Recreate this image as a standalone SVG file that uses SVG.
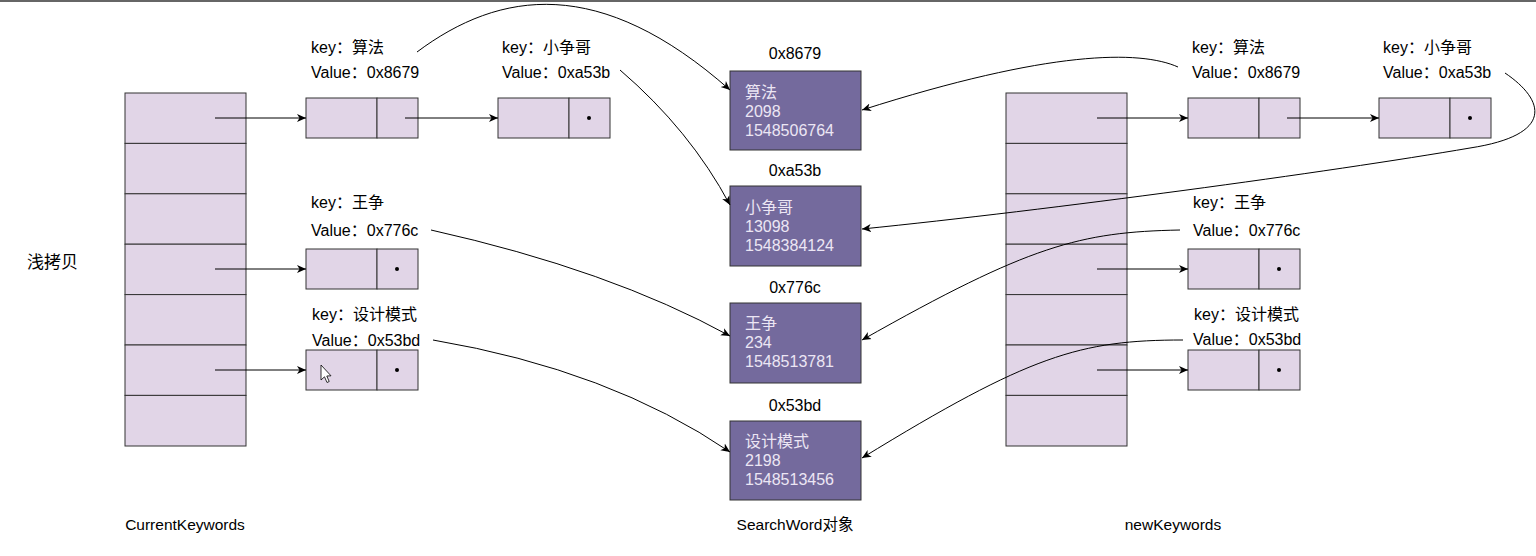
<svg xmlns="http://www.w3.org/2000/svg" width="1536" height="556" viewBox="0 0 1536 556">
<defs>
<marker id="arr" markerUnits="userSpaceOnUse" markerWidth="10" markerHeight="10" viewBox="0 0 10 10" refX="9" refY="5" orient="auto">
<path d="M0,1 L9,5 L0,9 L2.5,5 z" fill="#000"/>
</marker>
<style>
.cell{fill:#e1d5e7;stroke:#333;stroke-width:1}
.obj{fill:#746a9d;stroke:#333;stroke-width:1}
.t{font-family:"Liberation Sans","Noto Sans CJK SC",sans-serif;font-size:16px;fill:#000}
.w{font-family:"Liberation Sans","Noto Sans CJK SC",sans-serif;font-size:16px;fill:#ece6f4}
.b{font-family:"Liberation Sans","Noto Sans CJK SC",sans-serif;font-size:15.5px;fill:#000}
.c{fill:none;stroke:#000;stroke-width:1;marker-end:url(#arr)}
.dot{fill:#000}
</style>
</defs>
<rect width="1536" height="556" fill="#fff"/>
<rect x="0" y="0" width="1536" height="2" fill="#666"/>

<g id="current-keywords">
<rect class="cell" x="125" y="93" width="121" height="50.4"/>
<rect class="cell" x="125" y="143.4" width="121" height="50.4"/>
<rect class="cell" x="125" y="193.8" width="121" height="50.4"/>
<rect class="cell" x="125" y="244.2" width="121" height="50.4"/>
<rect class="cell" x="125" y="294.6" width="121" height="50.4"/>
<rect class="cell" x="125" y="345" width="121" height="50.4"/>
<rect class="cell" x="125" y="395.4" width="121" height="50.6"/>
<text class="b" x="185" y="530" text-anchor="middle">CurrentKeywords</text>
</g>

<g id="new-keywords">
<rect class="cell" x="1006" y="93" width="121" height="50.4"/>
<rect class="cell" x="1006" y="143.4" width="121" height="50.4"/>
<rect class="cell" x="1006" y="193.8" width="121" height="50.4"/>
<rect class="cell" x="1006" y="244.2" width="121" height="50.4"/>
<rect class="cell" x="1006" y="294.6" width="121" height="50.4"/>
<rect class="cell" x="1006" y="345" width="121" height="50.4"/>
<rect class="cell" x="1006" y="395.4" width="121" height="50.6"/>
<text class="b" x="1173" y="530" text-anchor="middle">newKeywords</text>
</g>

<text id="title" x="27" y="268" font-family="'Liberation Sans','Noto Sans CJK SC',sans-serif" font-size="17">浅拷贝</text>

<g id="l-node-suanfa">
<text class="t" x="311" y="53">key：算法</text>
<text class="t" x="311" y="78">Value：0x8679</text>
<rect class="cell" x="306" y="98" width="71" height="40"/>
<rect class="cell" x="377" y="98" width="41" height="40"/>
</g>
<g id="l-node-xiaozhengge">
<text class="t" x="502" y="53">key：小争哥</text>
<text class="t" x="502" y="78">Value：0xa53b</text>
<rect class="cell" x="498" y="98" width="71" height="40"/>
<rect class="cell" x="569" y="98" width="41" height="40"/>
<circle class="dot" cx="589" cy="118" r="2"/>
</g>
<g id="l-node-wangzheng">
<text class="t" x="311" y="208">key：王争</text>
<text class="t" x="311" y="236">Value：0x776c</text>
<rect class="cell" x="306" y="249" width="71" height="40"/>
<rect class="cell" x="377" y="249" width="41" height="40"/>
<circle class="dot" cx="397" cy="269" r="2"/>
</g>
<g id="l-node-sheji">
<text class="t" x="312" y="320">key：设计模式</text>
<text class="t" x="312" y="346">Value：0x53bd</text>
<rect class="cell" x="306" y="350" width="71" height="40"/>
<rect class="cell" x="377" y="350" width="41" height="40"/>
<circle class="dot" cx="397" cy="370" r="2"/>
<path d="M321,365 L321,380 L324.5,376.8 L327,382.5 L329.2,381.5 L326.8,376 L331,375.8 z" fill="#fff" stroke="#000" stroke-width="0.8"/>
</g>

<g id="r-node-suanfa">
<text class="t" x="1192" y="53">key：算法</text>
<text class="t" x="1192" y="78">Value：0x8679</text>
<rect class="cell" x="1188" y="98" width="71" height="40"/>
<rect class="cell" x="1259" y="98" width="41" height="40"/>
</g>
<g id="r-node-xiaozhengge">
<text class="t" x="1383" y="53">key：小争哥</text>
<text class="t" x="1383" y="78">Value：0xa53b</text>
<rect class="cell" x="1379" y="98" width="71" height="40"/>
<rect class="cell" x="1450" y="98" width="41" height="40"/>
<circle class="dot" cx="1470" cy="118" r="2"/>
</g>
<g id="r-node-wangzheng">
<text class="t" x="1193" y="208">key：王争</text>
<text class="t" x="1193" y="236">Value：0x776c</text>
<rect class="cell" x="1188" y="249" width="71" height="40"/>
<rect class="cell" x="1259" y="249" width="41" height="40"/>
<circle class="dot" cx="1279" cy="269" r="2"/>
</g>
<g id="r-node-sheji">
<text class="t" x="1194" y="320">key：设计模式</text>
<text class="t" x="1193" y="345">Value：0x53bd</text>
<rect class="cell" x="1188" y="350" width="71" height="40"/>
<rect class="cell" x="1259" y="350" width="41" height="40"/>
<circle class="dot" cx="1279" cy="370" r="2"/>
</g>

<g id="obj-8679">
<text class="t" x="795" y="59" text-anchor="middle">0x8679</text>
<rect class="obj" x="730" y="71" width="131" height="79"/>
<text class="w" x="745" y="98">算法</text>
<text class="w" x="745" y="117">2098</text>
<text class="w" x="745" y="136">1548506764</text>
</g>
<g id="obj-a53b">
<text class="t" x="795" y="176" text-anchor="middle">0xa53b</text>
<rect class="obj" x="730" y="186" width="131" height="80"/>
<text class="w" x="745" y="213">小争哥</text>
<text class="w" x="745" y="232">13098</text>
<text class="w" x="745" y="251">1548384124</text>
</g>
<g id="obj-776c">
<text class="t" x="795" y="293" text-anchor="middle">0x776c</text>
<rect class="obj" x="730" y="303" width="131" height="80"/>
<text class="w" x="745" y="329">王争</text>
<text class="w" x="745" y="348">234</text>
<text class="w" x="745" y="367">1548513781</text>
</g>
<g id="obj-53bd">
<text class="t" x="795" y="411" text-anchor="middle">0x53bd</text>
<rect class="obj" x="730" y="421" width="131" height="79"/>
<text class="w" x="745" y="447">设计模式</text>
<text class="w" x="745" y="466">2198</text>
<text class="w" x="745" y="485">1548513456</text>
<text class="b" x="795" y="530" text-anchor="middle">SearchWord对象</text>
</g>

<g id="connectors">
<path class="c" d="M215,118 L306,118"/>
<path class="c" d="M405,118 L498,118"/>
<path class="c" d="M215,269 L306,269"/>
<path class="c" d="M215,370 L306,370"/>
<path class="c" d="M1097,118 L1188,118"/>
<path class="c" d="M1287,118 L1379,118"/>
<path class="c" d="M1097,269 L1188,269"/>
<path class="c" d="M1097,370 L1188,370"/>
<path class="c" d="M417,52 C500,-10 600,-25 730,90"/>
<path class="c" d="M620,70 Q690,130 730,205"/>
<path class="c" d="M431,230 Q610,270 730,336"/>
<path class="c" d="M433,340 Q610,370 730,452"/>
<path class="c" d="M1178,67 C1140,50 1050,50 862,110"/>
<path class="c" d="M1505,73 C1545,100 1555,135 1470,148 C1330,172 1050,210 862,229"/>
<path class="c" d="M1180,230 C1080,232 1030,245 862,340"/>
<path class="c" d="M1183,340 C1080,340 1030,355 862,458"/>
</g>
</svg>
